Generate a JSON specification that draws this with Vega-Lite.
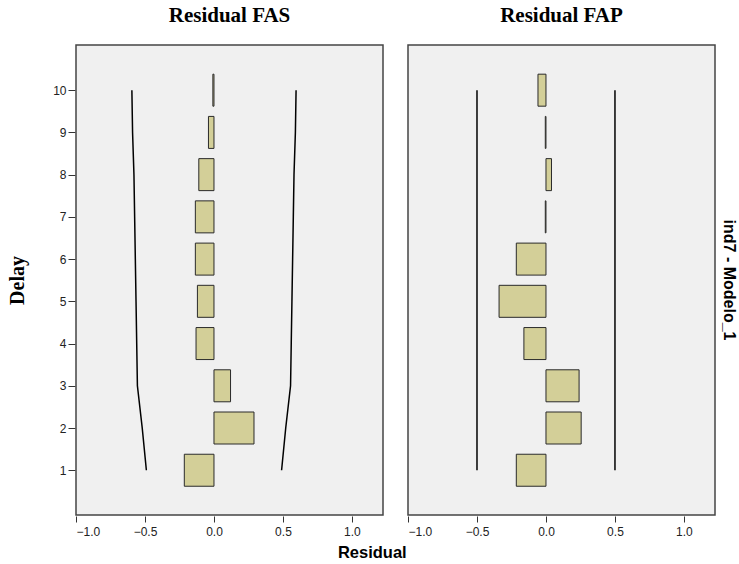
{
  "$schema": "https://vega.github.io/schema/vega-lite/v6.json",
  "background": "white",
  "padding": {"left": 7, "top": 5, "right": 0, "bottom": 4},
  "title": {"text": "Residual", "orient": "bottom", "anchor": "middle", "font": "Liberation Sans", "fontSize": 16.5, "fontWeight": "bold", "color": "black", "offset": 8},
  "data": {"values": [
    {"panel": "Residual FAS", "model": "ind7 - Modelo_1", "lag": 1, "resid": -0.215, "lcl": -0.49, "ucl": 0.49},
    {"panel": "Residual FAS", "model": "ind7 - Modelo_1", "lag": 2, "resid": 0.29, "lcl": -0.52, "ucl": 0.52},
    {"panel": "Residual FAS", "model": "ind7 - Modelo_1", "lag": 3, "resid": 0.12, "lcl": -0.555, "ucl": 0.555},
    {"panel": "Residual FAS", "model": "ind7 - Modelo_1", "lag": 4, "resid": -0.13, "lcl": -0.56, "ucl": 0.56},
    {"panel": "Residual FAS", "model": "ind7 - Modelo_1", "lag": 5, "resid": -0.12, "lcl": -0.565, "ucl": 0.565},
    {"panel": "Residual FAS", "model": "ind7 - Modelo_1", "lag": 6, "resid": -0.135, "lcl": -0.57, "ucl": 0.57},
    {"panel": "Residual FAS", "model": "ind7 - Modelo_1", "lag": 7, "resid": -0.135, "lcl": -0.575, "ucl": 0.575},
    {"panel": "Residual FAS", "model": "ind7 - Modelo_1", "lag": 8, "resid": -0.11, "lcl": -0.58, "ucl": 0.58},
    {"panel": "Residual FAS", "model": "ind7 - Modelo_1", "lag": 9, "resid": -0.04, "lcl": -0.59, "ucl": 0.59},
    {"panel": "Residual FAS", "model": "ind7 - Modelo_1", "lag": 10, "resid": -0.008, "lcl": -0.595, "ucl": 0.595},
    {"panel": "Residual FAP", "model": "ind7 - Modelo_1", "lag": 1, "resid": -0.215, "lcl": -0.5, "ucl": 0.5},
    {"panel": "Residual FAP", "model": "ind7 - Modelo_1", "lag": 2, "resid": 0.255, "lcl": -0.5, "ucl": 0.5},
    {"panel": "Residual FAP", "model": "ind7 - Modelo_1", "lag": 3, "resid": 0.24, "lcl": -0.5, "ucl": 0.5},
    {"panel": "Residual FAP", "model": "ind7 - Modelo_1", "lag": 4, "resid": -0.16, "lcl": -0.5, "ucl": 0.5},
    {"panel": "Residual FAP", "model": "ind7 - Modelo_1", "lag": 5, "resid": -0.34, "lcl": -0.5, "ucl": 0.5},
    {"panel": "Residual FAP", "model": "ind7 - Modelo_1", "lag": 6, "resid": -0.215, "lcl": -0.5, "ucl": 0.5},
    {"panel": "Residual FAP", "model": "ind7 - Modelo_1", "lag": 7, "resid": -0.005, "lcl": -0.5, "ucl": 0.5},
    {"panel": "Residual FAP", "model": "ind7 - Modelo_1", "lag": 8, "resid": 0.04, "lcl": -0.5, "ucl": 0.5},
    {"panel": "Residual FAP", "model": "ind7 - Modelo_1", "lag": 9, "resid": -0.005, "lcl": -0.5, "ucl": 0.5},
    {"panel": "Residual FAP", "model": "ind7 - Modelo_1", "lag": 10, "resid": -0.058, "lcl": -0.5, "ucl": 0.5}
  ]},
  "facet": {
    "column": {"field": "panel", "type": "nominal", "sort": ["Residual FAS", "Residual FAP"],
      "header": {"title": null, "labelFont": "Liberation Serif", "labelFontSize": 21, "labelFontWeight": "bold", "labelColor": "black", "labelPadding": 18}},
    "row": {"field": "model", "type": "nominal",
      "header": {"title": null, "labelOrient": "right", "labelAngle": 90, "labelFont": "Liberation Sans", "labelFontSize": 16, "labelFontWeight": "bold", "labelColor": "black", "labelPadding": 5}}
  },
  "spacing": {"column": 23, "row": 0},
  "spec": {
    "width": 307,
    "height": 470,
    "layer": [
      {
        "mark": {"type": "bar", "size": 32, "fill": "#d3cf98", "stroke": "#2a2a2a", "strokeWidth": 1},
        "encoding": {
          "y": {"field": "lag", "type": "quantitative",
            "scale": {"domain": [-0.06, 11.07], "nice": false, "zero": false, "padding": 0},
            "axis": {"title": "Delay", "values": [1, 2, 3, 4, 5, 6, 7, 8, 9, 10], "format": "d", "grid": false,
              "titleFont": "Liberation Serif", "titleFontSize": 20, "titleFontWeight": "bold", "titleColor": "black", "titlePadding": 25,
              "labelFont": "Liberation Sans", "labelFontSize": 12, "labelColor": "#222", "labelPadding": 2, "tickColor": "#333", "tickSize": 7, "domain": false}},
          "x": {"field": "resid", "type": "quantitative",
            "scale": {"domain": [-1, 1.225], "nice": false, "zero": false, "padding": 0},
            "axis": {"title": null, "values": [-1, -0.5, 0, 0.5, 1], "format": ".1f", "grid": false,
              "labelFont": "Liberation Sans", "labelFontSize": 12, "labelColor": "#222", "labelPadding": 4, "tickColor": "#333", "tickSize": 6, "domain": false}},
          "x2": {"datum": 0}
        }
      },
      {
        "mark": {"type": "line", "color": "black", "strokeWidth": 1.5},
        "encoding": {
          "x": {"field": "lcl", "type": "quantitative"},
          "y": {"field": "lag", "type": "quantitative"},
          "order": {"field": "lag"}
        }
      },
      {
        "mark": {"type": "line", "color": "black", "strokeWidth": 1.5},
        "encoding": {
          "x": {"field": "ucl", "type": "quantitative"},
          "y": {"field": "lag", "type": "quantitative"},
          "order": {"field": "lag"}
        }
      }
    ]
  },
  "config": {
    "view": {"fill": "#f0f0f0", "stroke": "#444", "strokeWidth": 1.5}
  }
}
